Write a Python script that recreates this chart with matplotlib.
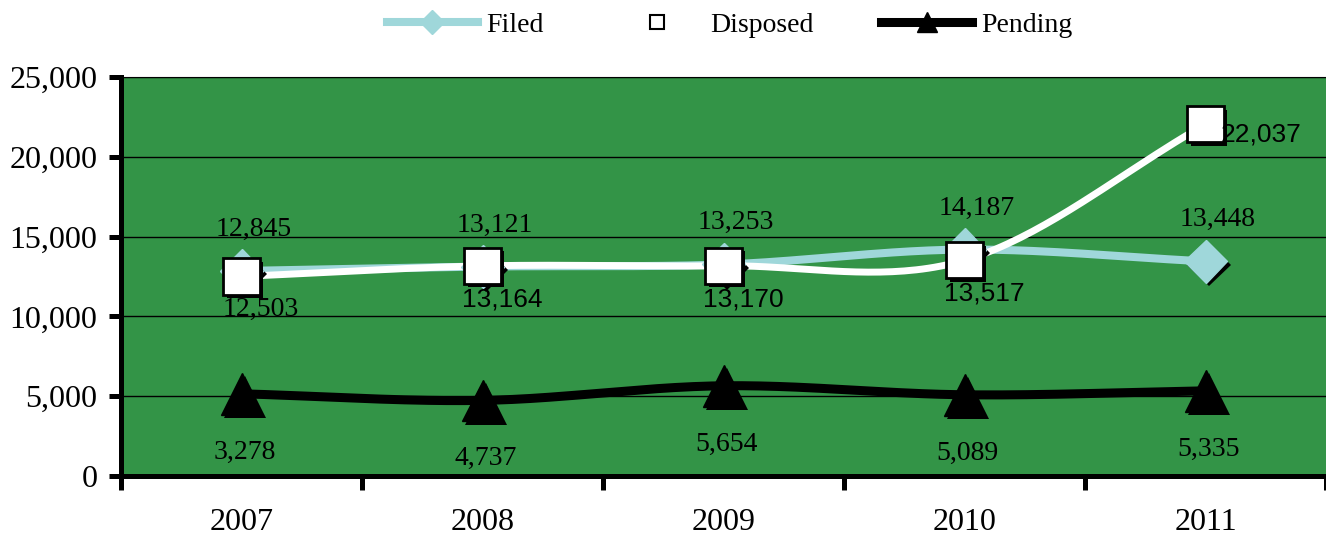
import matplotlib
matplotlib.use('Agg')
import matplotlib.pyplot as plt
import matplotlib.patheffects as pe
from matplotlib.lines import Line2D
import numpy as np

years = ['2007', '2008', '2009', '2010', '2011']
filed = [12845, 13121, 13253, 14187, 13448]
disposed = [12503, 13164, 13170, 13517, 22037]
pending = [5150, 4737, 5654, 5089, 5335]
pending_labels = ['3,278', '4,737', '5,654', '5,089', '5,335']

GREEN = '#339447'
CYAN = '#9fd7da'
SERIF = 'Liberation Serif'
SANS = 'Liberation Sans'


def smooth(y, n=40):
    # Catmull-Rom curve through the points, like Excel's smoothed lines
    y = np.asarray(y, dtype=float)
    p = np.concatenate([[2 * y[0] - y[1]], y, [2 * y[-1] - y[-2]]])
    xs, ys = [], []
    for i in range(len(y) - 1):
        t = np.linspace(0, 1, n, endpoint=(i == len(y) - 2))
        p0, p1, p2, p3 = p[i], p[i + 1], p[i + 2], p[i + 3]
        seg = 0.5 * (2 * p1 + (-p0 + p2) * t + (2 * p0 - 5 * p1 + 4 * p2 - p3) * t ** 2
                     + (-p0 + 3 * p1 - 3 * p2 + p3) * t ** 3)
        xs.append(i + t)
        ys.append(seg)
    return np.concatenate(xs), np.concatenate(ys)


shadow = [pe.SimplePatchShadow(offset=(2.5, -2.5), shadow_rgbFace='black', alpha=1.0), pe.Normal()]

fig = plt.figure(figsize=(13.26, 5.52), dpi=100)
ax = fig.add_axes([121 / 1326, 76 / 552, 1 - 121 / 1326, 399 / 552])
ax.set_facecolor(GREEN)

x = np.arange(len(years))

# lines
xs, ys = smooth(filed)
ax.plot(xs, ys, color=CYAN, lw=5.8, solid_capstyle='round', zorder=3)
xs, ys = smooth(disposed)
ax.plot(xs, ys, color='white', lw=5.0, solid_capstyle='round', zorder=4)
xs, ys = smooth(pending)
ax.plot(xs, ys, color='black', lw=6.5, solid_capstyle='round', zorder=3)

# markers
ax.plot(x, filed, ls='none', marker='D', ms=22, mfc=CYAN, mec=CYAN, zorder=5, path_effects=shadow)
ax.plot(x, disposed, ls='none', marker='s', ms=26, mfc='white', mec='black', mew=2, zorder=6, path_effects=shadow)
ax.plot(x, pending, ls='none', marker='^', ms=30, mfc='black', mec='black', zorder=5, path_effects=shadow)

# data labels
for i, v in enumerate(filed):
    ax.annotate(f'{v:,}', (x[i], v), xytext=(9, 30), textcoords='offset points',
                ha='center', va='center', fontsize=20, family=SERIF, zorder=8)
for i, v in enumerate(disposed):
    if i == len(disposed) - 1:
        ax.annotate(f'{v:,}', (x[i], v), xytext=(11, -7), textcoords='offset points',
                    ha='left', va='center', fontsize=19, family=SANS, zorder=8)
    else:
        ax.annotate(f'{v:,}', (x[i], v), xytext=(14, -24), textcoords='offset points',
                    ha='center', va='center', fontsize=20 if i == 0 else 19,
                    family=SERIF if i == 0 else SANS, zorder=8)
for i, v in enumerate(pending):
    ax.annotate(pending_labels[i], (x[i], v), xytext=(2, -42), textcoords='offset points',
                ha='center', va='center', fontsize=20, family=SERIF, zorder=8)

# axes
ax.set_xlim(-0.5, 4.5)
ax.set_ylim(0, 25000)
ax.set_yticks(range(0, 25001, 5000))
ax.set_yticklabels([f'{v:,}' for v in range(0, 25001, 5000)], family=SERIF, fontsize=23)
ax.yaxis.grid(True, color='black', lw=1.0)
ax.set_axisbelow(True)

ax.set_xticks(np.arange(-0.5, 5, 1))
ax.set_xticklabels([])
ax.set_xticks(x, minor=True)
ax.set_xticklabels(years, minor=True, family=SERIF, fontsize=23)
ax.tick_params(axis='x', which='minor', length=0, pad=23)
ax.tick_params(axis='x', which='major', length=10, width=3.6, direction='out')
ax.tick_params(axis='y', length=9, width=3.6, direction='out', pad=8)

ax.spines['left'].set_linewidth(3.6)
ax.spines['bottom'].set_linewidth(3.6)
ax.spines['top'].set_linewidth(0.8)
ax.spines['right'].set_visible(False)

handles = [
    Line2D([], [], color=CYAN, lw=5.8, marker='D', ms=12, mfc=CYAN, mec=CYAN),
    Line2D([], [], color='white', lw=0, marker='s', ms=10, mfc='white', mec='black', mew=1.5),
    Line2D([], [], color='black', lw=6.5, marker='^', ms=14, mfc='black', mec='black'),
]
fig.legend(handles, ['Filed', 'Disposed', 'Pending'], loc='center', bbox_to_anchor=(0.55, 0.955),
           ncol=3, frameon=False, prop={'family': SERIF, 'size': 20},
           handlelength=3.3, handletextpad=0.3, columnspacing=2.4)

fig.savefig('out.png', dpi=100)
